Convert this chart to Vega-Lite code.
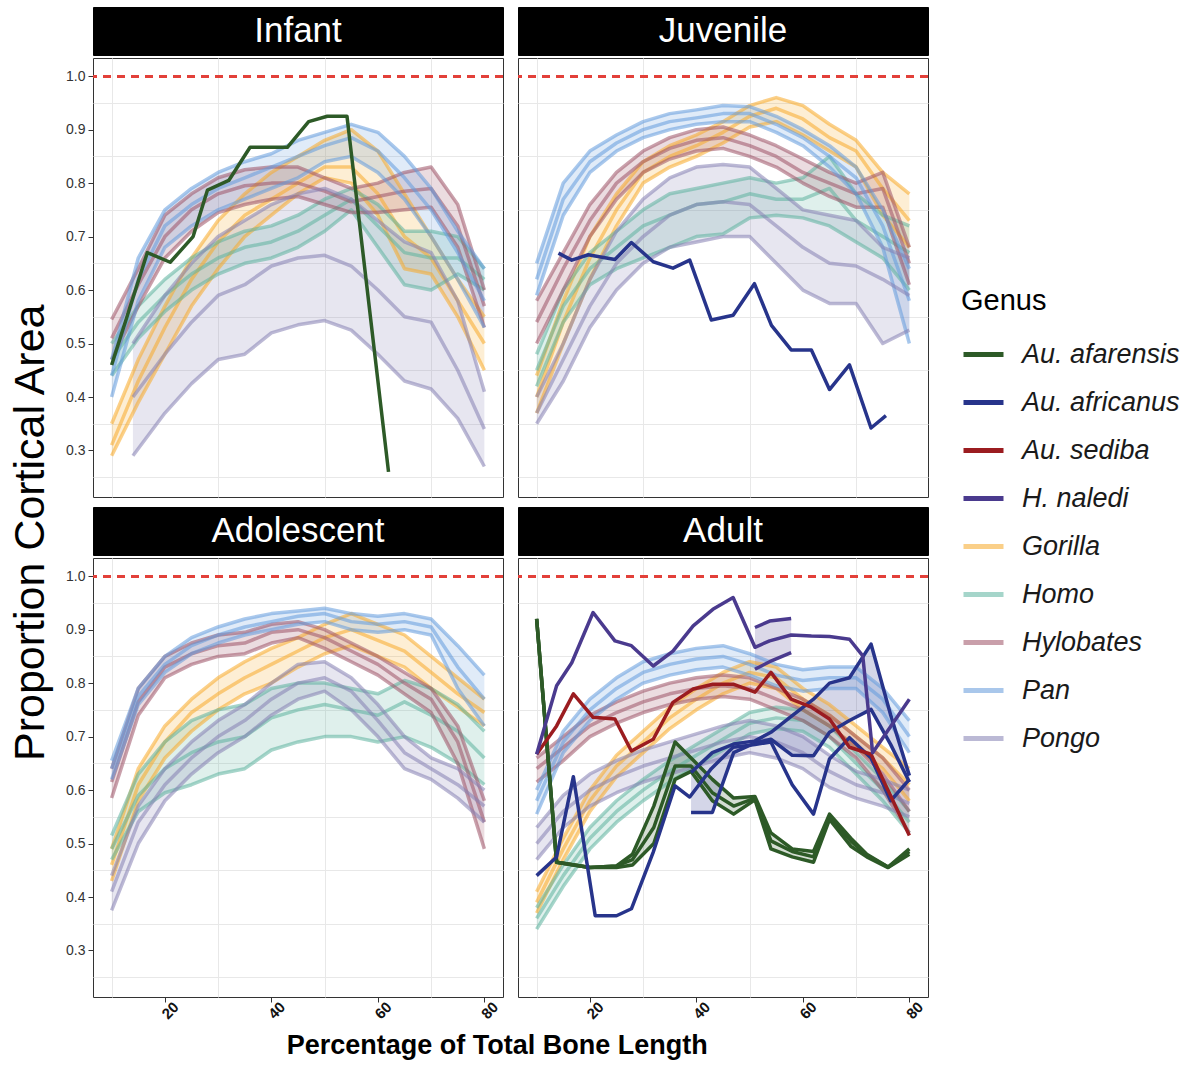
{
  "$schema": "https://vega.github.io/schema/vega-lite/v6.json",
  "background": "white",
  "padding": {"left": 10, "top": 6, "right": 5, "bottom": 4},
  "config": {
    "font": "Liberation Sans",
    "view": {"stroke": "#333333", "strokeWidth": 1}
  },
  "datasets": {
    "curves": [
      {"stage":"Infant","genus":"Gorilla","x":10,"lo":0.29,"mid":0.31,"hi":0.35},
      {"stage":"Infant","genus":"Gorilla","x":15,"lo":0.39,"mid":0.43,"hi":0.47},
      {"stage":"Infant","genus":"Gorilla","x":20,"lo":0.48,"mid":0.53,"hi":0.57},
      {"stage":"Infant","genus":"Gorilla","x":25,"lo":0.57,"mid":0.62,"hi":0.66},
      {"stage":"Infant","genus":"Gorilla","x":30,"lo":0.64,"mid":0.69,"hi":0.73},
      {"stage":"Infant","genus":"Gorilla","x":35,"lo":0.70,"mid":0.74,"hi":0.78},
      {"stage":"Infant","genus":"Gorilla","x":40,"lo":0.74,"mid":0.77,"hi":0.82},
      {"stage":"Infant","genus":"Gorilla","x":45,"lo":0.78,"mid":0.80,"hi":0.85},
      {"stage":"Infant","genus":"Gorilla","x":50,"lo":0.81,"mid":0.83,"hi":0.88},
      {"stage":"Infant","genus":"Gorilla","x":55,"lo":0.80,"mid":0.83,"hi":0.90},
      {"stage":"Infant","genus":"Gorilla","x":60,"lo":0.74,"mid":0.78,"hi":0.86},
      {"stage":"Infant","genus":"Gorilla","x":65,"lo":0.64,"mid":0.70,"hi":0.78},
      {"stage":"Infant","genus":"Gorilla","x":70,"lo":0.63,"mid":0.66,"hi":0.70},
      {"stage":"Infant","genus":"Gorilla","x":75,"lo":0.55,"mid":0.58,"hi":0.62},
      {"stage":"Infant","genus":"Gorilla","x":80,"lo":0.45,"mid":0.50,"hi":0.55},
      {"stage":"Infant","genus":"Homo","x":10,"lo":0.44,"mid":0.47,"hi":0.50},
      {"stage":"Infant","genus":"Homo","x":15,"lo":0.51,"mid":0.54,"hi":0.57},
      {"stage":"Infant","genus":"Homo","x":20,"lo":0.56,"mid":0.59,"hi":0.62},
      {"stage":"Infant","genus":"Homo","x":25,"lo":0.60,"mid":0.63,"hi":0.66},
      {"stage":"Infant","genus":"Homo","x":30,"lo":0.63,"mid":0.66,"hi":0.69},
      {"stage":"Infant","genus":"Homo","x":35,"lo":0.65,"mid":0.68,"hi":0.71},
      {"stage":"Infant","genus":"Homo","x":40,"lo":0.66,"mid":0.69,"hi":0.72},
      {"stage":"Infant","genus":"Homo","x":45,"lo":0.68,"mid":0.71,"hi":0.74},
      {"stage":"Infant","genus":"Homo","x":50,"lo":0.71,"mid":0.74,"hi":0.77},
      {"stage":"Infant","genus":"Homo","x":55,"lo":0.75,"mid":0.77,"hi":0.79},
      {"stage":"Infant","genus":"Homo","x":60,"lo":0.68,"mid":0.72,"hi":0.76},
      {"stage":"Infant","genus":"Homo","x":65,"lo":0.61,"mid":0.67,"hi":0.71},
      {"stage":"Infant","genus":"Homo","x":70,"lo":0.60,"mid":0.66,"hi":0.71},
      {"stage":"Infant","genus":"Homo","x":75,"lo":0.63,"mid":0.66,"hi":0.70},
      {"stage":"Infant","genus":"Homo","x":80,"lo":0.60,"mid":0.62,"hi":0.64},
      {"stage":"Infant","genus":"Hylobates","x":10,"lo":0.47,"mid":0.51,"hi":0.545},
      {"stage":"Infant","genus":"Hylobates","x":15,"lo":0.57,"mid":0.61,"hi":0.64},
      {"stage":"Infant","genus":"Hylobates","x":20,"lo":0.66,"mid":0.70,"hi":0.74},
      {"stage":"Infant","genus":"Hylobates","x":25,"lo":0.71,"mid":0.75,"hi":0.78},
      {"stage":"Infant","genus":"Hylobates","x":30,"lo":0.745,"mid":0.78,"hi":0.81},
      {"stage":"Infant","genus":"Hylobates","x":35,"lo":0.76,"mid":0.795,"hi":0.825},
      {"stage":"Infant","genus":"Hylobates","x":40,"lo":0.77,"mid":0.80,"hi":0.83},
      {"stage":"Infant","genus":"Hylobates","x":45,"lo":0.775,"mid":0.80,"hi":0.83},
      {"stage":"Infant","genus":"Hylobates","x":50,"lo":0.76,"mid":0.785,"hi":0.81},
      {"stage":"Infant","genus":"Hylobates","x":55,"lo":0.745,"mid":0.765,"hi":0.79},
      {"stage":"Infant","genus":"Hylobates","x":60,"lo":0.745,"mid":0.775,"hi":0.80},
      {"stage":"Infant","genus":"Hylobates","x":65,"lo":0.75,"mid":0.785,"hi":0.82},
      {"stage":"Infant","genus":"Hylobates","x":70,"lo":0.755,"mid":0.79,"hi":0.83},
      {"stage":"Infant","genus":"Hylobates","x":75,"lo":0.68,"mid":0.72,"hi":0.76},
      {"stage":"Infant","genus":"Hylobates","x":80,"lo":0.53,"mid":0.57,"hi":0.60},
      {"stage":"Infant","genus":"Pan","x":10,"lo":0.40,"mid":0.44,"hi":0.47},
      {"stage":"Infant","genus":"Pan","x":15,"lo":0.58,"mid":0.62,"hi":0.66},
      {"stage":"Infant","genus":"Pan","x":20,"lo":0.68,"mid":0.72,"hi":0.75},
      {"stage":"Infant","genus":"Pan","x":25,"lo":0.72,"mid":0.76,"hi":0.79},
      {"stage":"Infant","genus":"Pan","x":30,"lo":0.75,"mid":0.79,"hi":0.82},
      {"stage":"Infant","genus":"Pan","x":35,"lo":0.77,"mid":0.81,"hi":0.84},
      {"stage":"Infant","genus":"Pan","x":40,"lo":0.79,"mid":0.83,"hi":0.855},
      {"stage":"Infant","genus":"Pan","x":45,"lo":0.81,"mid":0.85,"hi":0.88},
      {"stage":"Infant","genus":"Pan","x":50,"lo":0.84,"mid":0.87,"hi":0.895},
      {"stage":"Infant","genus":"Pan","x":55,"lo":0.85,"mid":0.885,"hi":0.91},
      {"stage":"Infant","genus":"Pan","x":60,"lo":0.82,"mid":0.86,"hi":0.895},
      {"stage":"Infant","genus":"Pan","x":65,"lo":0.77,"mid":0.81,"hi":0.85},
      {"stage":"Infant","genus":"Pan","x":70,"lo":0.70,"mid":0.75,"hi":0.79},
      {"stage":"Infant","genus":"Pan","x":75,"lo":0.62,"mid":0.67,"hi":0.71},
      {"stage":"Infant","genus":"Pan","x":80,"lo":0.53,"mid":0.58,"hi":0.64},
      {"stage":"Infant","genus":"Pongo","x":14,"lo":0.29,"mid":0.40,"hi":0.50},
      {"stage":"Infant","genus":"Pongo","x":20,"lo":0.37,"mid":0.48,"hi":0.59},
      {"stage":"Infant","genus":"Pongo","x":25,"lo":0.425,"mid":0.54,"hi":0.65},
      {"stage":"Infant","genus":"Pongo","x":30,"lo":0.47,"mid":0.59,"hi":0.70},
      {"stage":"Infant","genus":"Pongo","x":35,"lo":0.48,"mid":0.61,"hi":0.73},
      {"stage":"Infant","genus":"Pongo","x":40,"lo":0.52,"mid":0.645,"hi":0.76},
      {"stage":"Infant","genus":"Pongo","x":45,"lo":0.535,"mid":0.66,"hi":0.78},
      {"stage":"Infant","genus":"Pongo","x":50,"lo":0.543,"mid":0.665,"hi":0.79},
      {"stage":"Infant","genus":"Pongo","x":55,"lo":0.525,"mid":0.645,"hi":0.77},
      {"stage":"Infant","genus":"Pongo","x":60,"lo":0.48,"mid":0.60,"hi":0.73},
      {"stage":"Infant","genus":"Pongo","x":65,"lo":0.43,"mid":0.55,"hi":0.69},
      {"stage":"Infant","genus":"Pongo","x":70,"lo":0.415,"mid":0.54,"hi":0.67},
      {"stage":"Infant","genus":"Pongo","x":75,"lo":0.36,"mid":0.45,"hi":0.58},
      {"stage":"Infant","genus":"Pongo","x":80,"lo":0.27,"mid":0.34,"hi":0.41},

      {"stage":"Juvenile","genus":"Gorilla","x":10,"lo":0.37,"mid":0.40,"hi":0.44},
      {"stage":"Juvenile","genus":"Gorilla","x":15,"lo":0.50,"mid":0.54,"hi":0.58},
      {"stage":"Juvenile","genus":"Gorilla","x":20,"lo":0.62,"mid":0.66,"hi":0.70},
      {"stage":"Juvenile","genus":"Gorilla","x":25,"lo":0.72,"mid":0.75,"hi":0.78},
      {"stage":"Juvenile","genus":"Gorilla","x":30,"lo":0.80,"mid":0.82,"hi":0.84},
      {"stage":"Juvenile","genus":"Gorilla","x":35,"lo":0.83,"mid":0.85,"hi":0.87},
      {"stage":"Juvenile","genus":"Gorilla","x":40,"lo":0.85,"mid":0.87,"hi":0.89},
      {"stage":"Juvenile","genus":"Gorilla","x":45,"lo":0.875,"mid":0.895,"hi":0.915},
      {"stage":"Juvenile","genus":"Gorilla","x":50,"lo":0.905,"mid":0.925,"hi":0.945},
      {"stage":"Juvenile","genus":"Gorilla","x":55,"lo":0.915,"mid":0.94,"hi":0.96},
      {"stage":"Juvenile","genus":"Gorilla","x":60,"lo":0.89,"mid":0.92,"hi":0.945},
      {"stage":"Juvenile","genus":"Gorilla","x":65,"lo":0.86,"mid":0.885,"hi":0.91},
      {"stage":"Juvenile","genus":"Gorilla","x":70,"lo":0.83,"mid":0.86,"hi":0.88},
      {"stage":"Juvenile","genus":"Gorilla","x":75,"lo":0.74,"mid":0.79,"hi":0.82},
      {"stage":"Juvenile","genus":"Gorilla","x":80,"lo":0.68,"mid":0.73,"hi":0.78},
      {"stage":"Juvenile","genus":"Homo","x":10,"lo":0.42,"mid":0.45,"hi":0.48},
      {"stage":"Juvenile","genus":"Homo","x":15,"lo":0.54,"mid":0.57,"hi":0.60},
      {"stage":"Juvenile","genus":"Homo","x":20,"lo":0.61,"mid":0.64,"hi":0.67},
      {"stage":"Juvenile","genus":"Homo","x":25,"lo":0.64,"mid":0.68,"hi":0.71},
      {"stage":"Juvenile","genus":"Homo","x":30,"lo":0.66,"mid":0.72,"hi":0.75},
      {"stage":"Juvenile","genus":"Homo","x":35,"lo":0.68,"mid":0.74,"hi":0.78},
      {"stage":"Juvenile","genus":"Homo","x":40,"lo":0.70,"mid":0.76,"hi":0.79},
      {"stage":"Juvenile","genus":"Homo","x":45,"lo":0.705,"mid":0.765,"hi":0.80},
      {"stage":"Juvenile","genus":"Homo","x":50,"lo":0.735,"mid":0.78,"hi":0.81},
      {"stage":"Juvenile","genus":"Homo","x":55,"lo":0.74,"mid":0.77,"hi":0.80},
      {"stage":"Juvenile","genus":"Homo","x":60,"lo":0.735,"mid":0.77,"hi":0.81},
      {"stage":"Juvenile","genus":"Homo","x":65,"lo":0.72,"mid":0.79,"hi":0.85},
      {"stage":"Juvenile","genus":"Homo","x":70,"lo":0.69,"mid":0.73,"hi":0.78},
      {"stage":"Juvenile","genus":"Homo","x":75,"lo":0.66,"mid":0.70,"hi":0.74},
      {"stage":"Juvenile","genus":"Homo","x":80,"lo":0.60,"mid":0.67,"hi":0.72},
      {"stage":"Juvenile","genus":"Hylobates","x":10,"lo":0.50,"mid":0.54,"hi":0.58},
      {"stage":"Juvenile","genus":"Hylobates","x":15,"lo":0.60,"mid":0.64,"hi":0.67},
      {"stage":"Juvenile","genus":"Hylobates","x":20,"lo":0.70,"mid":0.73,"hi":0.76},
      {"stage":"Juvenile","genus":"Hylobates","x":25,"lo":0.77,"mid":0.80,"hi":0.82},
      {"stage":"Juvenile","genus":"Hylobates","x":30,"lo":0.82,"mid":0.84,"hi":0.86},
      {"stage":"Juvenile","genus":"Hylobates","x":35,"lo":0.845,"mid":0.865,"hi":0.885},
      {"stage":"Juvenile","genus":"Hylobates","x":40,"lo":0.86,"mid":0.88,"hi":0.90},
      {"stage":"Juvenile","genus":"Hylobates","x":45,"lo":0.865,"mid":0.885,"hi":0.905},
      {"stage":"Juvenile","genus":"Hylobates","x":50,"lo":0.85,"mid":0.87,"hi":0.89},
      {"stage":"Juvenile","genus":"Hylobates","x":55,"lo":0.83,"mid":0.85,"hi":0.87},
      {"stage":"Juvenile","genus":"Hylobates","x":60,"lo":0.80,"mid":0.82,"hi":0.845},
      {"stage":"Juvenile","genus":"Hylobates","x":65,"lo":0.775,"mid":0.80,"hi":0.82},
      {"stage":"Juvenile","genus":"Hylobates","x":70,"lo":0.755,"mid":0.78,"hi":0.80},
      {"stage":"Juvenile","genus":"Hylobates","x":75,"lo":0.755,"mid":0.79,"hi":0.82},
      {"stage":"Juvenile","genus":"Hylobates","x":80,"lo":0.61,"mid":0.65,"hi":0.68},
      {"stage":"Juvenile","genus":"Pan","x":10,"lo":0.59,"mid":0.62,"hi":0.65},
      {"stage":"Juvenile","genus":"Pan","x":15,"lo":0.74,"mid":0.77,"hi":0.80},
      {"stage":"Juvenile","genus":"Pan","x":20,"lo":0.82,"mid":0.84,"hi":0.86},
      {"stage":"Juvenile","genus":"Pan","x":25,"lo":0.86,"mid":0.875,"hi":0.89},
      {"stage":"Juvenile","genus":"Pan","x":30,"lo":0.885,"mid":0.90,"hi":0.915},
      {"stage":"Juvenile","genus":"Pan","x":35,"lo":0.90,"mid":0.915,"hi":0.93},
      {"stage":"Juvenile","genus":"Pan","x":40,"lo":0.91,"mid":0.922,"hi":0.937},
      {"stage":"Juvenile","genus":"Pan","x":45,"lo":0.915,"mid":0.93,"hi":0.945},
      {"stage":"Juvenile","genus":"Pan","x":50,"lo":0.915,"mid":0.93,"hi":0.943},
      {"stage":"Juvenile","genus":"Pan","x":55,"lo":0.895,"mid":0.91,"hi":0.925},
      {"stage":"Juvenile","genus":"Pan","x":60,"lo":0.87,"mid":0.885,"hi":0.90},
      {"stage":"Juvenile","genus":"Pan","x":65,"lo":0.83,"mid":0.85,"hi":0.87},
      {"stage":"Juvenile","genus":"Pan","x":70,"lo":0.78,"mid":0.81,"hi":0.83},
      {"stage":"Juvenile","genus":"Pan","x":75,"lo":0.68,"mid":0.72,"hi":0.75},
      {"stage":"Juvenile","genus":"Pan","x":80,"lo":0.50,"mid":0.58,"hi":0.64},
      {"stage":"Juvenile","genus":"Pongo","x":10,"lo":0.35,"mid":0.37,"hi":0.40},
      {"stage":"Juvenile","genus":"Pongo","x":15,"lo":0.43,"mid":0.47,"hi":0.50},
      {"stage":"Juvenile","genus":"Pongo","x":20,"lo":0.53,"mid":0.57,"hi":0.62},
      {"stage":"Juvenile","genus":"Pongo","x":25,"lo":0.60,"mid":0.65,"hi":0.71},
      {"stage":"Juvenile","genus":"Pongo","x":30,"lo":0.65,"mid":0.70,"hi":0.77},
      {"stage":"Juvenile","genus":"Pongo","x":35,"lo":0.68,"mid":0.74,"hi":0.81},
      {"stage":"Juvenile","genus":"Pongo","x":40,"lo":0.69,"mid":0.76,"hi":0.83},
      {"stage":"Juvenile","genus":"Pongo","x":45,"lo":0.70,"mid":0.765,"hi":0.835},
      {"stage":"Juvenile","genus":"Pongo","x":50,"lo":0.70,"mid":0.76,"hi":0.83},
      {"stage":"Juvenile","genus":"Pongo","x":55,"lo":0.65,"mid":0.72,"hi":0.79},
      {"stage":"Juvenile","genus":"Pongo","x":60,"lo":0.60,"mid":0.68,"hi":0.75},
      {"stage":"Juvenile","genus":"Pongo","x":65,"lo":0.575,"mid":0.65,"hi":0.74},
      {"stage":"Juvenile","genus":"Pongo","x":70,"lo":0.575,"mid":0.645,"hi":0.73},
      {"stage":"Juvenile","genus":"Pongo","x":75,"lo":0.50,"mid":0.62,"hi":0.68},
      {"stage":"Juvenile","genus":"Pongo","x":80,"lo":0.525,"mid":0.59,"hi":0.66},

      {"stage":"Adolescent","genus":"Gorilla","x":10,"lo":0.43,"mid":0.46,"hi":0.49},
      {"stage":"Adolescent","genus":"Gorilla","x":15,"lo":0.58,"mid":0.61,"hi":0.64},
      {"stage":"Adolescent","genus":"Gorilla","x":20,"lo":0.66,"mid":0.69,"hi":0.72},
      {"stage":"Adolescent","genus":"Gorilla","x":25,"lo":0.71,"mid":0.745,"hi":0.77},
      {"stage":"Adolescent","genus":"Gorilla","x":30,"lo":0.75,"mid":0.78,"hi":0.81},
      {"stage":"Adolescent","genus":"Gorilla","x":35,"lo":0.78,"mid":0.81,"hi":0.84},
      {"stage":"Adolescent","genus":"Gorilla","x":40,"lo":0.80,"mid":0.835,"hi":0.865},
      {"stage":"Adolescent","genus":"Gorilla","x":45,"lo":0.83,"mid":0.86,"hi":0.885},
      {"stage":"Adolescent","genus":"Gorilla","x":50,"lo":0.855,"mid":0.885,"hi":0.91},
      {"stage":"Adolescent","genus":"Gorilla","x":55,"lo":0.87,"mid":0.90,"hi":0.93},
      {"stage":"Adolescent","genus":"Gorilla","x":60,"lo":0.85,"mid":0.88,"hi":0.91},
      {"stage":"Adolescent","genus":"Gorilla","x":65,"lo":0.83,"mid":0.86,"hi":0.89},
      {"stage":"Adolescent","genus":"Gorilla","x":70,"lo":0.79,"mid":0.82,"hi":0.85},
      {"stage":"Adolescent","genus":"Gorilla","x":75,"lo":0.755,"mid":0.78,"hi":0.81},
      {"stage":"Adolescent","genus":"Gorilla","x":80,"lo":0.72,"mid":0.745,"hi":0.77},
      {"stage":"Adolescent","genus":"Homo","x":10,"lo":0.47,"mid":0.49,"hi":0.515},
      {"stage":"Adolescent","genus":"Homo","x":15,"lo":0.56,"mid":0.59,"hi":0.63},
      {"stage":"Adolescent","genus":"Homo","x":20,"lo":0.595,"mid":0.64,"hi":0.69},
      {"stage":"Adolescent","genus":"Homo","x":25,"lo":0.61,"mid":0.67,"hi":0.73},
      {"stage":"Adolescent","genus":"Homo","x":30,"lo":0.63,"mid":0.69,"hi":0.75},
      {"stage":"Adolescent","genus":"Homo","x":35,"lo":0.64,"mid":0.70,"hi":0.76},
      {"stage":"Adolescent","genus":"Homo","x":40,"lo":0.675,"mid":0.735,"hi":0.79},
      {"stage":"Adolescent","genus":"Homo","x":45,"lo":0.69,"mid":0.75,"hi":0.80},
      {"stage":"Adolescent","genus":"Homo","x":50,"lo":0.70,"mid":0.76,"hi":0.80},
      {"stage":"Adolescent","genus":"Homo","x":55,"lo":0.70,"mid":0.75,"hi":0.79},
      {"stage":"Adolescent","genus":"Homo","x":60,"lo":0.69,"mid":0.74,"hi":0.78},
      {"stage":"Adolescent","genus":"Homo","x":65,"lo":0.70,"mid":0.765,"hi":0.805},
      {"stage":"Adolescent","genus":"Homo","x":70,"lo":0.68,"mid":0.74,"hi":0.79},
      {"stage":"Adolescent","genus":"Homo","x":75,"lo":0.65,"mid":0.71,"hi":0.76},
      {"stage":"Adolescent","genus":"Homo","x":80,"lo":0.61,"mid":0.66,"hi":0.71},
      {"stage":"Adolescent","genus":"Hylobates","x":10,"lo":0.585,"mid":0.615,"hi":0.64},
      {"stage":"Adolescent","genus":"Hylobates","x":15,"lo":0.74,"mid":0.765,"hi":0.79},
      {"stage":"Adolescent","genus":"Hylobates","x":20,"lo":0.81,"mid":0.83,"hi":0.85},
      {"stage":"Adolescent","genus":"Hylobates","x":25,"lo":0.835,"mid":0.855,"hi":0.875},
      {"stage":"Adolescent","genus":"Hylobates","x":30,"lo":0.85,"mid":0.87,"hi":0.89},
      {"stage":"Adolescent","genus":"Hylobates","x":35,"lo":0.855,"mid":0.875,"hi":0.895},
      {"stage":"Adolescent","genus":"Hylobates","x":40,"lo":0.875,"mid":0.895,"hi":0.91},
      {"stage":"Adolescent","genus":"Hylobates","x":45,"lo":0.885,"mid":0.90,"hi":0.915},
      {"stage":"Adolescent","genus":"Hylobates","x":50,"lo":0.865,"mid":0.885,"hi":0.90},
      {"stage":"Adolescent","genus":"Hylobates","x":55,"lo":0.84,"mid":0.86,"hi":0.875},
      {"stage":"Adolescent","genus":"Hylobates","x":60,"lo":0.815,"mid":0.835,"hi":0.85},
      {"stage":"Adolescent","genus":"Hylobates","x":65,"lo":0.78,"mid":0.80,"hi":0.82},
      {"stage":"Adolescent","genus":"Hylobates","x":70,"lo":0.745,"mid":0.77,"hi":0.79},
      {"stage":"Adolescent","genus":"Hylobates","x":75,"lo":0.65,"mid":0.69,"hi":0.72},
      {"stage":"Adolescent","genus":"Hylobates","x":80,"lo":0.49,"mid":0.54,"hi":0.58},
      {"stage":"Adolescent","genus":"Pan","x":10,"lo":0.62,"mid":0.64,"hi":0.655},
      {"stage":"Adolescent","genus":"Pan","x":15,"lo":0.76,"mid":0.775,"hi":0.79},
      {"stage":"Adolescent","genus":"Pan","x":20,"lo":0.82,"mid":0.835,"hi":0.85},
      {"stage":"Adolescent","genus":"Pan","x":25,"lo":0.855,"mid":0.87,"hi":0.885},
      {"stage":"Adolescent","genus":"Pan","x":30,"lo":0.875,"mid":0.89,"hi":0.905},
      {"stage":"Adolescent","genus":"Pan","x":35,"lo":0.89,"mid":0.905,"hi":0.92},
      {"stage":"Adolescent","genus":"Pan","x":40,"lo":0.90,"mid":0.915,"hi":0.93},
      {"stage":"Adolescent","genus":"Pan","x":45,"lo":0.91,"mid":0.925,"hi":0.935},
      {"stage":"Adolescent","genus":"Pan","x":50,"lo":0.915,"mid":0.93,"hi":0.94},
      {"stage":"Adolescent","genus":"Pan","x":55,"lo":0.90,"mid":0.915,"hi":0.93},
      {"stage":"Adolescent","genus":"Pan","x":60,"lo":0.895,"mid":0.91,"hi":0.925},
      {"stage":"Adolescent","genus":"Pan","x":65,"lo":0.90,"mid":0.915,"hi":0.93},
      {"stage":"Adolescent","genus":"Pan","x":70,"lo":0.89,"mid":0.905,"hi":0.92},
      {"stage":"Adolescent","genus":"Pan","x":75,"lo":0.79,"mid":0.83,"hi":0.87},
      {"stage":"Adolescent","genus":"Pan","x":80,"lo":0.72,"mid":0.77,"hi":0.815},
      {"stage":"Adolescent","genus":"Pongo","x":10,"lo":0.375,"mid":0.41,"hi":0.44},
      {"stage":"Adolescent","genus":"Pongo","x":15,"lo":0.50,"mid":0.54,"hi":0.57},
      {"stage":"Adolescent","genus":"Pongo","x":20,"lo":0.58,"mid":0.61,"hi":0.64},
      {"stage":"Adolescent","genus":"Pongo","x":25,"lo":0.63,"mid":0.66,"hi":0.69},
      {"stage":"Adolescent","genus":"Pongo","x":30,"lo":0.67,"mid":0.70,"hi":0.73},
      {"stage":"Adolescent","genus":"Pongo","x":35,"lo":0.70,"mid":0.73,"hi":0.76},
      {"stage":"Adolescent","genus":"Pongo","x":40,"lo":0.74,"mid":0.77,"hi":0.80},
      {"stage":"Adolescent","genus":"Pongo","x":45,"lo":0.77,"mid":0.80,"hi":0.835},
      {"stage":"Adolescent","genus":"Pongo","x":50,"lo":0.785,"mid":0.81,"hi":0.84},
      {"stage":"Adolescent","genus":"Pongo","x":55,"lo":0.75,"mid":0.785,"hi":0.81},
      {"stage":"Adolescent","genus":"Pongo","x":60,"lo":0.70,"mid":0.73,"hi":0.76},
      {"stage":"Adolescent","genus":"Pongo","x":65,"lo":0.64,"mid":0.67,"hi":0.70},
      {"stage":"Adolescent","genus":"Pongo","x":70,"lo":0.62,"mid":0.64,"hi":0.66},
      {"stage":"Adolescent","genus":"Pongo","x":75,"lo":0.585,"mid":0.61,"hi":0.64},
      {"stage":"Adolescent","genus":"Pongo","x":80,"lo":0.54,"mid":0.57,"hi":0.60},

      {"stage":"Adult","genus":"Gorilla","x":10,"lo":0.37,"mid":0.39,"hi":0.41},
      {"stage":"Adult","genus":"Gorilla","x":15,"lo":0.47,"mid":0.49,"hi":0.51},
      {"stage":"Adult","genus":"Gorilla","x":20,"lo":0.56,"mid":0.58,"hi":0.60},
      {"stage":"Adult","genus":"Gorilla","x":25,"lo":0.625,"mid":0.645,"hi":0.665},
      {"stage":"Adult","genus":"Gorilla","x":30,"lo":0.67,"mid":0.69,"hi":0.71},
      {"stage":"Adult","genus":"Gorilla","x":35,"lo":0.715,"mid":0.735,"hi":0.755},
      {"stage":"Adult","genus":"Gorilla","x":40,"lo":0.75,"mid":0.77,"hi":0.79},
      {"stage":"Adult","genus":"Gorilla","x":45,"lo":0.78,"mid":0.80,"hi":0.82},
      {"stage":"Adult","genus":"Gorilla","x":50,"lo":0.80,"mid":0.82,"hi":0.84},
      {"stage":"Adult","genus":"Gorilla","x":55,"lo":0.79,"mid":0.81,"hi":0.83},
      {"stage":"Adult","genus":"Gorilla","x":60,"lo":0.75,"mid":0.77,"hi":0.79},
      {"stage":"Adult","genus":"Gorilla","x":65,"lo":0.72,"mid":0.74,"hi":0.76},
      {"stage":"Adult","genus":"Gorilla","x":70,"lo":0.68,"mid":0.70,"hi":0.72},
      {"stage":"Adult","genus":"Gorilla","x":75,"lo":0.64,"mid":0.66,"hi":0.68},
      {"stage":"Adult","genus":"Gorilla","x":80,"lo":0.58,"mid":0.61,"hi":0.64},
      {"stage":"Adult","genus":"Homo","x":10,"lo":0.34,"mid":0.36,"hi":0.38},
      {"stage":"Adult","genus":"Homo","x":15,"lo":0.42,"mid":0.44,"hi":0.46},
      {"stage":"Adult","genus":"Homo","x":20,"lo":0.49,"mid":0.51,"hi":0.53},
      {"stage":"Adult","genus":"Homo","x":25,"lo":0.54,"mid":0.56,"hi":0.58},
      {"stage":"Adult","genus":"Homo","x":30,"lo":0.58,"mid":0.60,"hi":0.62},
      {"stage":"Adult","genus":"Homo","x":35,"lo":0.615,"mid":0.635,"hi":0.655},
      {"stage":"Adult","genus":"Homo","x":40,"lo":0.645,"mid":0.665,"hi":0.685},
      {"stage":"Adult","genus":"Homo","x":45,"lo":0.675,"mid":0.695,"hi":0.715},
      {"stage":"Adult","genus":"Homo","x":50,"lo":0.705,"mid":0.725,"hi":0.745},
      {"stage":"Adult","genus":"Homo","x":55,"lo":0.715,"mid":0.735,"hi":0.755},
      {"stage":"Adult","genus":"Homo","x":60,"lo":0.71,"mid":0.73,"hi":0.75},
      {"stage":"Adult","genus":"Homo","x":65,"lo":0.68,"mid":0.70,"hi":0.72},
      {"stage":"Adult","genus":"Homo","x":70,"lo":0.63,"mid":0.65,"hi":0.67},
      {"stage":"Adult","genus":"Homo","x":75,"lo":0.58,"mid":0.60,"hi":0.62},
      {"stage":"Adult","genus":"Homo","x":80,"lo":0.52,"mid":0.54,"hi":0.56},
      {"stage":"Adult","genus":"Hylobates","x":10,"lo":0.615,"mid":0.64,"hi":0.66},
      {"stage":"Adult","genus":"Hylobates","x":15,"lo":0.655,"mid":0.68,"hi":0.70},
      {"stage":"Adult","genus":"Hylobates","x":20,"lo":0.70,"mid":0.72,"hi":0.74},
      {"stage":"Adult","genus":"Hylobates","x":25,"lo":0.725,"mid":0.745,"hi":0.765},
      {"stage":"Adult","genus":"Hylobates","x":30,"lo":0.745,"mid":0.765,"hi":0.785},
      {"stage":"Adult","genus":"Hylobates","x":35,"lo":0.76,"mid":0.78,"hi":0.80},
      {"stage":"Adult","genus":"Hylobates","x":40,"lo":0.77,"mid":0.79,"hi":0.81},
      {"stage":"Adult","genus":"Hylobates","x":45,"lo":0.775,"mid":0.795,"hi":0.815},
      {"stage":"Adult","genus":"Hylobates","x":50,"lo":0.77,"mid":0.79,"hi":0.81},
      {"stage":"Adult","genus":"Hylobates","x":55,"lo":0.75,"mid":0.77,"hi":0.79},
      {"stage":"Adult","genus":"Hylobates","x":60,"lo":0.73,"mid":0.75,"hi":0.77},
      {"stage":"Adult","genus":"Hylobates","x":65,"lo":0.70,"mid":0.72,"hi":0.74},
      {"stage":"Adult","genus":"Hylobates","x":70,"lo":0.66,"mid":0.68,"hi":0.70},
      {"stage":"Adult","genus":"Hylobates","x":75,"lo":0.60,"mid":0.63,"hi":0.66},
      {"stage":"Adult","genus":"Hylobates","x":80,"lo":0.52,"mid":0.56,"hi":0.60},
      {"stage":"Adult","genus":"Pan","x":10,"lo":0.555,"mid":0.58,"hi":0.60},
      {"stage":"Adult","genus":"Pan","x":15,"lo":0.67,"mid":0.69,"hi":0.71},
      {"stage":"Adult","genus":"Pan","x":20,"lo":0.73,"mid":0.75,"hi":0.77},
      {"stage":"Adult","genus":"Pan","x":25,"lo":0.77,"mid":0.79,"hi":0.81},
      {"stage":"Adult","genus":"Pan","x":30,"lo":0.80,"mid":0.82,"hi":0.84},
      {"stage":"Adult","genus":"Pan","x":35,"lo":0.815,"mid":0.835,"hi":0.855},
      {"stage":"Adult","genus":"Pan","x":40,"lo":0.825,"mid":0.845,"hi":0.865},
      {"stage":"Adult","genus":"Pan","x":45,"lo":0.83,"mid":0.85,"hi":0.87},
      {"stage":"Adult","genus":"Pan","x":50,"lo":0.815,"mid":0.835,"hi":0.855},
      {"stage":"Adult","genus":"Pan","x":55,"lo":0.795,"mid":0.815,"hi":0.835},
      {"stage":"Adult","genus":"Pan","x":60,"lo":0.785,"mid":0.805,"hi":0.825},
      {"stage":"Adult","genus":"Pan","x":65,"lo":0.79,"mid":0.81,"hi":0.83},
      {"stage":"Adult","genus":"Pan","x":70,"lo":0.79,"mid":0.81,"hi":0.83},
      {"stage":"Adult","genus":"Pan","x":75,"lo":0.745,"mid":0.77,"hi":0.79},
      {"stage":"Adult","genus":"Pan","x":80,"lo":0.67,"mid":0.70,"hi":0.73},
      {"stage":"Adult","genus":"Pongo","x":10,"lo":0.47,"mid":0.50,"hi":0.53},
      {"stage":"Adult","genus":"Pongo","x":15,"lo":0.53,"mid":0.56,"hi":0.59},
      {"stage":"Adult","genus":"Pongo","x":20,"lo":0.57,"mid":0.60,"hi":0.63},
      {"stage":"Adult","genus":"Pongo","x":25,"lo":0.595,"mid":0.625,"hi":0.655},
      {"stage":"Adult","genus":"Pongo","x":30,"lo":0.615,"mid":0.645,"hi":0.675},
      {"stage":"Adult","genus":"Pongo","x":35,"lo":0.63,"mid":0.66,"hi":0.69},
      {"stage":"Adult","genus":"Pongo","x":40,"lo":0.645,"mid":0.675,"hi":0.705},
      {"stage":"Adult","genus":"Pongo","x":45,"lo":0.66,"mid":0.69,"hi":0.72},
      {"stage":"Adult","genus":"Pongo","x":50,"lo":0.67,"mid":0.70,"hi":0.73},
      {"stage":"Adult","genus":"Pongo","x":55,"lo":0.66,"mid":0.69,"hi":0.72},
      {"stage":"Adult","genus":"Pongo","x":60,"lo":0.64,"mid":0.67,"hi":0.70},
      {"stage":"Adult","genus":"Pongo","x":65,"lo":0.605,"mid":0.635,"hi":0.665},
      {"stage":"Adult","genus":"Pongo","x":70,"lo":0.585,"mid":0.61,"hi":0.635},
      {"stage":"Adult","genus":"Pongo","x":75,"lo":0.57,"mid":0.595,"hi":0.62},
      {"stage":"Adult","genus":"Pongo","x":80,"lo":0.55,"mid":0.575,"hi":0.60},

      {"stage":"Infant","genus":"Au. afarensis","id":"af1","x":10,"mid":0.46},
      {"stage":"Infant","genus":"Au. afarensis","id":"af1","x":16.7,"mid":0.67},
      {"stage":"Infant","genus":"Au. afarensis","id":"af1","x":21,"mid":0.652},
      {"stage":"Infant","genus":"Au. afarensis","id":"af1","x":25.3,"mid":0.70},
      {"stage":"Infant","genus":"Au. afarensis","id":"af1","x":28,"mid":0.787},
      {"stage":"Infant","genus":"Au. afarensis","id":"af1","x":32,"mid":0.805},
      {"stage":"Infant","genus":"Au. afarensis","id":"af1","x":36,"mid":0.867},
      {"stage":"Infant","genus":"Au. afarensis","id":"af1","x":43,"mid":0.867},
      {"stage":"Infant","genus":"Au. afarensis","id":"af1","x":47,"mid":0.915},
      {"stage":"Infant","genus":"Au. afarensis","id":"af1","x":50.5,"mid":0.925},
      {"stage":"Infant","genus":"Au. afarensis","id":"af1","x":54.2,"mid":0.925},
      {"stage":"Infant","genus":"Au. afarensis","id":"af1","x":62,"mid":0.26},

      {"stage":"Juvenile","genus":"Au. africanus","id":"aa1","x":14.1,"mid":0.669},
      {"stage":"Juvenile","genus":"Au. africanus","id":"aa1","x":16.6,"mid":0.656},
      {"stage":"Juvenile","genus":"Au. africanus","id":"aa1","x":19.7,"mid":0.666},
      {"stage":"Juvenile","genus":"Au. africanus","id":"aa1","x":24.7,"mid":0.657},
      {"stage":"Juvenile","genus":"Au. africanus","id":"aa1","x":27.8,"mid":0.689},
      {"stage":"Juvenile","genus":"Au. africanus","id":"aa1","x":31.9,"mid":0.653},
      {"stage":"Juvenile","genus":"Au. africanus","id":"aa1","x":35.6,"mid":0.641},
      {"stage":"Juvenile","genus":"Au. africanus","id":"aa1","x":38.75,"mid":0.656},
      {"stage":"Juvenile","genus":"Au. africanus","id":"aa1","x":42.8,"mid":0.544},
      {"stage":"Juvenile","genus":"Au. africanus","id":"aa1","x":46.9,"mid":0.553},
      {"stage":"Juvenile","genus":"Au. africanus","id":"aa1","x":50.9,"mid":0.612},
      {"stage":"Juvenile","genus":"Au. africanus","id":"aa1","x":54.1,"mid":0.534},
      {"stage":"Juvenile","genus":"Au. africanus","id":"aa1","x":57.8,"mid":0.488},
      {"stage":"Juvenile","genus":"Au. africanus","id":"aa1","x":61.6,"mid":0.488},
      {"stage":"Juvenile","genus":"Au. africanus","id":"aa1","x":65,"mid":0.414},
      {"stage":"Juvenile","genus":"Au. africanus","id":"aa1","x":68.75,"mid":0.46},
      {"stage":"Juvenile","genus":"Au. africanus","id":"aa1","x":72.8,"mid":0.342},
      {"stage":"Juvenile","genus":"Au. africanus","id":"aa1","x":75.6,"mid":0.365},

      {"stage":"Adult","genus":"Au. afarensis","id":"af2","x":10,"lo":0.92,"mid":0.92,"hi":0.92},
      {"stage":"Adult","genus":"Au. afarensis","id":"af2","x":13.75,"lo":0.465,"mid":0.465,"hi":0.465},
      {"stage":"Adult","genus":"Au. afarensis","id":"af2","x":20,"lo":0.455,"mid":0.455,"hi":0.455},
      {"stage":"Adult","genus":"Au. afarensis","id":"af2","x":25,"lo":0.455,"mid":0.458,"hi":0.458},
      {"stage":"Adult","genus":"Au. afarensis","id":"af2","x":28,"lo":0.46,"mid":0.47,"hi":0.48},
      {"stage":"Adult","genus":"Au. afarensis","id":"af2","x":32,"lo":0.50,"mid":0.53,"hi":0.57},
      {"stage":"Adult","genus":"Au. afarensis","id":"af2","x":36,"lo":0.62,"mid":0.645,"hi":0.69},
      {"stage":"Adult","genus":"Au. afarensis","id":"af2","x":39,"lo":0.635,"mid":0.645,"hi":0.66},
      {"stage":"Adult","genus":"Au. afarensis","id":"af2","x":43,"lo":0.58,"mid":0.595,"hi":0.62},
      {"stage":"Adult","genus":"Au. afarensis","id":"af2","x":47,"lo":0.555,"mid":0.57,"hi":0.585},
      {"stage":"Adult","genus":"Au. afarensis","id":"af2","x":51,"lo":0.582,"mid":0.585,"hi":0.588},
      {"stage":"Adult","genus":"Au. afarensis","id":"af2","x":54,"lo":0.49,"mid":0.505,"hi":0.52},
      {"stage":"Adult","genus":"Au. afarensis","id":"af2","x":58,"lo":0.475,"mid":0.485,"hi":0.49},
      {"stage":"Adult","genus":"Au. afarensis","id":"af2","x":62,"lo":0.465,"mid":0.475,"hi":0.485},
      {"stage":"Adult","genus":"Au. afarensis","id":"af2","x":65,"lo":0.545,"mid":0.55,"hi":0.555},
      {"stage":"Adult","genus":"Au. afarensis","id":"af2","x":69,"lo":0.495,"mid":0.505,"hi":0.51},
      {"stage":"Adult","genus":"Au. afarensis","id":"af2","x":72,"lo":0.475,"mid":0.478,"hi":0.48},
      {"stage":"Adult","genus":"Au. afarensis","id":"af2","x":76,"lo":0.455,"mid":0.456,"hi":0.456},
      {"stage":"Adult","genus":"Au. afarensis","id":"af2","x":80,"lo":0.48,"mid":0.485,"hi":0.49},

      {"stage":"Adult","genus":"Au. africanus","id":"aa2","x":10,"mid":0.44},
      {"stage":"Adult","genus":"Au. africanus","id":"aa2","x":13.75,"mid":0.475},
      {"stage":"Adult","genus":"Au. africanus","id":"aa2","x":16.9,"mid":0.625},
      {"stage":"Adult","genus":"Au. africanus","id":"aa2","x":21,"mid":0.365},
      {"stage":"Adult","genus":"Au. africanus","id":"aa2","x":25,"mid":0.365},
      {"stage":"Adult","genus":"Au. africanus","id":"aa2","x":27.8,"mid":0.378},
      {"stage":"Adult","genus":"Au. africanus","id":"aa2","x":31.9,"mid":0.484},
      {"stage":"Adult","genus":"Au. africanus","id":"aa2","x":36,"mid":0.608},
      {"stage":"Adult","genus":"Au. africanus","id":"aa2","x":38.75,"mid":0.587},
      {"stage":"Adult","genus":"Au. africanus","id":"aa2","x":42.8,"mid":0.64},
      {"stage":"Adult","genus":"Au. africanus","id":"aa2","x":46.9,"mid":0.68},
      {"stage":"Adult","genus":"Au. africanus","id":"aa2","x":51,"mid":0.685},
      {"stage":"Adult","genus":"Au. africanus","id":"aa2","x":54,"mid":0.69},
      {"stage":"Adult","genus":"Au. africanus","id":"aa2","x":58,"mid":0.61},
      {"stage":"Adult","genus":"Au. africanus","id":"aa2","x":62,"mid":0.555},
      {"stage":"Adult","genus":"Au. africanus","id":"aa2","x":65,"mid":0.658},
      {"stage":"Adult","genus":"Au. africanus","id":"aa2","x":68.75,"mid":0.698},
      {"stage":"Adult","genus":"Au. africanus","id":"aa2","x":72.8,"mid":0.66},
      {"stage":"Adult","genus":"Au. africanus","id":"aa2","x":76.5,"mid":0.58},
      {"stage":"Adult","genus":"Au. africanus","id":"aa2","x":80,"mid":0.62},
      {"stage":"Adult","genus":"Au. africanus","id":"aa3","x":39,"lo":0.558,"hi":0.633},
      {"stage":"Adult","genus":"Au. africanus","id":"aa3","x":43,"lo":0.558,"hi":0.67},
      {"stage":"Adult","genus":"Au. africanus","id":"aa3","x":47,"lo":0.67,"hi":0.686},
      {"stage":"Adult","genus":"Au. africanus","id":"aa3","x":51,"lo":0.688,"hi":0.692},
      {"stage":"Adult","genus":"Au. africanus","id":"aa3","x":54,"lo":0.695,"hi":0.708},
      {"stage":"Adult","genus":"Au. africanus","id":"aa3","x":58,"lo":0.665,"hi":0.739},
      {"stage":"Adult","genus":"Au. africanus","id":"aa3","x":62,"lo":0.664,"hi":0.77},
      {"stage":"Adult","genus":"Au. africanus","id":"aa3","x":65,"lo":0.708,"hi":0.80},
      {"stage":"Adult","genus":"Au. africanus","id":"aa3","x":68.75,"lo":0.73,"hi":0.81},
      {"stage":"Adult","genus":"Au. africanus","id":"aa3","x":72.8,"lo":0.751,"hi":0.873},
      {"stage":"Adult","genus":"Au. africanus","id":"aa3","x":76.5,"lo":0.685,"hi":0.74},
      {"stage":"Adult","genus":"Au. africanus","id":"aa3","x":80,"lo":0.615,"hi":0.627},

      {"stage":"Adult","genus":"Au. sediba","id":"se1","x":10,"mid":0.667},
      {"stage":"Adult","genus":"Au. sediba","id":"se1","x":13.75,"mid":0.72},
      {"stage":"Adult","genus":"Au. sediba","id":"se1","x":16.9,"mid":0.78},
      {"stage":"Adult","genus":"Au. sediba","id":"se1","x":20.6,"mid":0.736},
      {"stage":"Adult","genus":"Au. sediba","id":"se1","x":24.7,"mid":0.733},
      {"stage":"Adult","genus":"Au. sediba","id":"se1","x":27.8,"mid":0.673},
      {"stage":"Adult","genus":"Au. sediba","id":"se1","x":31.9,"mid":0.695},
      {"stage":"Adult","genus":"Au. sediba","id":"se1","x":35.6,"mid":0.764},
      {"stage":"Adult","genus":"Au. sediba","id":"se1","x":39.4,"mid":0.789},
      {"stage":"Adult","genus":"Au. sediba","id":"se1","x":43.1,"mid":0.798},
      {"stage":"Adult","genus":"Au. sediba","id":"se1","x":46.9,"mid":0.798},
      {"stage":"Adult","genus":"Au. sediba","id":"se1","x":51,"mid":0.783},
      {"stage":"Adult","genus":"Au. sediba","id":"se1","x":54,"mid":0.82},
      {"stage":"Adult","genus":"Au. sediba","id":"se1","x":57.8,"mid":0.77},
      {"stage":"Adult","genus":"Au. sediba","id":"se1","x":61.6,"mid":0.755},
      {"stage":"Adult","genus":"Au. sediba","id":"se1","x":65,"mid":0.733},
      {"stage":"Adult","genus":"Au. sediba","id":"se1","x":68.75,"mid":0.68},
      {"stage":"Adult","genus":"Au. sediba","id":"se1","x":72.8,"mid":0.667},
      {"stage":"Adult","genus":"Au. sediba","id":"se1","x":80,"mid":0.515},

      {"stage":"Adult","genus":"H. naledi","id":"hn1","x":10,"mid":0.667},
      {"stage":"Adult","genus":"H. naledi","id":"hn1","x":13.75,"mid":0.795},
      {"stage":"Adult","genus":"H. naledi","id":"hn1","x":16.6,"mid":0.838},
      {"stage":"Adult","genus":"H. naledi","id":"hn1","x":20.6,"mid":0.932},
      {"stage":"Adult","genus":"H. naledi","id":"hn1","x":24.7,"mid":0.879},
      {"stage":"Adult","genus":"H. naledi","id":"hn1","x":27.8,"mid":0.87},
      {"stage":"Adult","genus":"H. naledi","id":"hn1","x":31.9,"mid":0.832},
      {"stage":"Adult","genus":"H. naledi","id":"hn1","x":35.6,"mid":0.86},
      {"stage":"Adult","genus":"H. naledi","id":"hn1","x":39.4,"mid":0.907},
      {"stage":"Adult","genus":"H. naledi","id":"hn1","x":43.1,"mid":0.938},
      {"stage":"Adult","genus":"H. naledi","id":"hn1","x":46.9,"mid":0.96},
      {"stage":"Adult","genus":"H. naledi","id":"hn1","x":51,"lo":0.826,"mid":0.867,"hi":0.904},
      {"stage":"Adult","genus":"H. naledi","id":"hn1","x":53.75,"lo":0.84,"mid":0.879,"hi":0.916},
      {"stage":"Adult","genus":"H. naledi","id":"hn1","x":57.8,"lo":0.857,"mid":0.89,"hi":0.921},
      {"stage":"Adult","genus":"H. naledi","id":"hn1","x":61.6,"mid":0.888},
      {"stage":"Adult","genus":"H. naledi","id":"hn1","x":65,"mid":0.887},
      {"stage":"Adult","genus":"H. naledi","id":"hn1","x":68.75,"mid":0.882},
      {"stage":"Adult","genus":"H. naledi","id":"hn1","x":71.25,"mid":0.851},
      {"stage":"Adult","genus":"H. naledi","id":"hn1","x":73.1,"mid":0.67},
      {"stage":"Adult","genus":"H. naledi","id":"hn1","x":80,"mid":0.77}
    ]
  },
  "title": {"text": "Proportion Cortical Area", "orient": "left", "anchor": "middle", "fontSize": 43, "fontWeight": "normal", "color": "black", "font": "Liberation Sans", "offset": 12},
  "vconcat": [
    {
      "title": {"text": "Percentage of Total Bone Length", "orient": "bottom", "anchor": "middle", "fontSize": 27, "fontWeight": "bold", "color": "black", "font": "Liberation Sans Narrow, Liberation Sans", "offset": 11},
      "spacing": 8,
      "vconcat": [
        {
          "spacing": 11,
          "hconcat": [
            {
              "spacing": 1,
              "vconcat": [
                {"width": 410, "height": 48, "view": {"fill": "black", "stroke": "black"}, "data": {"values": [{"label": "Infant"}]}, "mark": {"type": "text", "color": "white", "fontSize": 35, "font": "Liberation Sans"}, "encoding": {"text": {"field": "label", "type": "nominal"}}},
                {
                  "width": 410, "height": 439,
                  "data": {"name": "curves"},
                  "transform": [{"filter": {"field": "stage", "equal": "Infant"}}],
                  "resolve": {"axis": {"x": "independent", "y": "independent"}},
                  "layer": [
                    {"transform": [{"filter": "isValid(datum.lo) && isValid(datum.hi)"}], "mark": {"type": "area", "fillOpacity": 0.2},
                     "encoding": {
                       "x": {"field": "x", "type": "quantitative", "scale": {"domain": [6.5, 83.5], "nice": false, "zero": false}, "axis": {"orient": "bottom", "values": [10,30,50,70], "title": null, "domain": false, "labels": false, "ticks": false, "gridColor": "#e8e8e8"}},
                       "y": {"field": "lo", "type": "quantitative", "scale": {"domain": [0.213, 1.034], "nice": false, "zero": false}, "axis": {"orient": "left", "values": [0.25,0.35,0.45,0.55,0.65,0.75,0.85,0.95], "title": null, "domain": false, "labels": false, "ticks": false, "gridColor": "#e8e8e8"}},
                       "y2": {"field": "hi"},
                       "color": {"field": "genus", "type": "nominal", "scale": {"domain": ["Au. afarensis","Au. africanus","Au. sediba","H. naledi","Gorilla","Homo","Hylobates","Pan","Pongo"], "range": ["#2d5a27","#27348b","#9b1c20","#4a3a8e","#f7a928","#5db39f","#9d5266","#639bdc","#8580b3"]}, "legend": {"title": "Genus", "orient": "none", "legendX": 868, "legendY": 280, "symbolType": "stroke", "symbolSize": 1600, "symbolStrokeWidth": 5, "labelFontSize": 27, "labelFontStyle": "italic", "labelColor": "#1a1a1a", "titleFontSize": 29, "titleFontWeight": "normal", "titleColor": "black", "rowPadding": 12, "labelOffset": 16, "titlePadding": 16, "padding": 0}},
                       "detail": {"field": "id"}}},
                    {"transform": [{"fold": ["lo","mid","hi"], "as": ["key","v"]}, {"filter": "isValid(datum.v)"}], "mark": {"type": "line", "strokeWidth": 3.5, "strokeJoin": "round"},
                     "encoding": {
                       "x": {"field": "x", "type": "quantitative", "scale": {"domain": [6.5, 83.5], "nice": false, "zero": false}, "axis": {"orient": "bottom", "values": [20,40,60,80], "title": null, "domain": false, "labels": false, "ticks": false, "gridColor": "#cfcfcf"}},
                       "y": {"field": "v", "type": "quantitative", "scale": {"domain": [0.213, 1.034], "nice": false, "zero": false}, "axis": {"orient": "left", "values": [0.3,0.4,0.5,0.6,0.7,0.8,0.9,1.0], "format": ".1f", "title": null, "domain": false, "labelFontSize": 14, "labelColor": "#333333", "labelPadding": 3, "labelFlush": false, "tickSize": 5, "tickColor": "#333333", "gridColor": "#cfcfcf"}},
                       "color": {"field": "genus", "type": "nominal", "scale": {"domain": ["Au. afarensis","Au. africanus","Au. sediba","H. naledi","Gorilla","Homo","Hylobates","Pan","Pongo"], "range": ["#2d5a27","#27348b","#9b1c20","#4a3a8e","#f7a928","#5db39f","#9d5266","#639bdc","#8580b3"]}, "legend": {"title": "Genus", "orient": "none", "legendX": 868, "legendY": 280, "symbolType": "stroke", "symbolSize": 1600, "symbolStrokeWidth": 5, "labelFontSize": 27, "labelFontStyle": "italic", "labelColor": "#1a1a1a", "titleFontSize": 29, "titleFontWeight": "normal", "titleColor": "black", "rowPadding": 12, "labelOffset": 16, "titlePadding": 16, "padding": 0}},
                       "opacity": {"field": "genus", "type": "nominal", "scale": {"type": "ordinal", "domain": ["Au. afarensis","Au. africanus","Au. sediba","H. naledi","Gorilla","Homo","Hylobates","Pan","Pongo"], "range": [1,1,1,1,0.55,0.55,0.55,0.55,0.55]}, "legend": {"title": "Genus", "orient": "none", "legendX": 868, "legendY": 280, "symbolType": "stroke", "symbolSize": 1600, "symbolStrokeWidth": 5, "labelFontSize": 27, "labelFontStyle": "italic", "labelColor": "#1a1a1a", "titleFontSize": 29, "titleFontWeight": "normal", "titleColor": "black", "rowPadding": 12, "labelOffset": 16, "titlePadding": 16, "padding": 0}},
                       "detail": [{"field": "id"}, {"field": "key"}]}},
                    {"mark": {"type": "rule", "color": "#e2403a", "strokeDash": [8, 6], "strokeWidth": 2}, "encoding": {"y": {"datum": 1, "type": "quantitative", "axis": null}}}
                  ]
                }
              ]
            },
            {
              "spacing": 1,
              "vconcat": [
                {"width": 410, "height": 48, "view": {"fill": "black", "stroke": "black"}, "data": {"values": [{"label": "Juvenile"}]}, "mark": {"type": "text", "color": "white", "fontSize": 35, "font": "Liberation Sans"}, "encoding": {"text": {"field": "label", "type": "nominal"}}},
                {
                  "width": 410, "height": 439,
                  "data": {"name": "curves"},
                  "transform": [{"filter": {"field": "stage", "equal": "Juvenile"}}],
                  "resolve": {"axis": {"x": "independent", "y": "independent"}},
                  "layer": [
                    {"transform": [{"filter": "isValid(datum.lo) && isValid(datum.hi)"}], "mark": {"type": "area", "fillOpacity": 0.2},
                     "encoding": {
                       "x": {"field": "x", "type": "quantitative", "scale": {"domain": [6.5, 83.5], "nice": false, "zero": false}, "axis": {"orient": "bottom", "values": [10,30,50,70], "title": null, "domain": false, "labels": false, "ticks": false, "gridColor": "#e8e8e8"}},
                       "y": {"field": "lo", "type": "quantitative", "scale": {"domain": [0.213, 1.034], "nice": false, "zero": false}, "axis": {"orient": "left", "values": [0.25,0.35,0.45,0.55,0.65,0.75,0.85,0.95], "title": null, "domain": false, "labels": false, "ticks": false, "gridColor": "#e8e8e8"}},
                       "y2": {"field": "hi"},
                       "color": {"field": "genus", "type": "nominal", "scale": {"domain": ["Au. afarensis","Au. africanus","Au. sediba","H. naledi","Gorilla","Homo","Hylobates","Pan","Pongo"], "range": ["#2d5a27","#27348b","#9b1c20","#4a3a8e","#f7a928","#5db39f","#9d5266","#639bdc","#8580b3"]}},
                       "detail": {"field": "id"}}},
                    {"transform": [{"fold": ["lo","mid","hi"], "as": ["key","v"]}, {"filter": "isValid(datum.v)"}], "mark": {"type": "line", "strokeWidth": 3.5, "strokeJoin": "round"},
                     "encoding": {
                       "x": {"field": "x", "type": "quantitative", "scale": {"domain": [6.5, 83.5], "nice": false, "zero": false}, "axis": {"orient": "bottom", "values": [20,40,60,80], "title": null, "domain": false, "labels": false, "ticks": false, "gridColor": "#cfcfcf"}},
                       "y": {"field": "v", "type": "quantitative", "scale": {"domain": [0.213, 1.034], "nice": false, "zero": false}, "axis": {"orient": "left", "values": [0.3,0.4,0.5,0.6,0.7,0.8,0.9,1.0], "title": null, "domain": false, "labels": false, "ticks": false, "gridColor": "#cfcfcf"}},
                       "color": {"field": "genus", "type": "nominal", "scale": {"domain": ["Au. afarensis","Au. africanus","Au. sediba","H. naledi","Gorilla","Homo","Hylobates","Pan","Pongo"], "range": ["#2d5a27","#27348b","#9b1c20","#4a3a8e","#f7a928","#5db39f","#9d5266","#639bdc","#8580b3"]}},
                       "opacity": {"field": "genus", "type": "nominal", "scale": {"type": "ordinal", "domain": ["Au. afarensis","Au. africanus","Au. sediba","H. naledi","Gorilla","Homo","Hylobates","Pan","Pongo"], "range": [1,1,1,1,0.55,0.55,0.55,0.55,0.55]}},
                       "detail": [{"field": "id"}, {"field": "key"}]}},
                    {"mark": {"type": "rule", "color": "#e2403a", "strokeDash": [8, 6], "strokeWidth": 2}, "encoding": {"y": {"datum": 1, "type": "quantitative", "axis": null}}}
                  ]
                }
              ]
            }
          ]
        },
        {
          "spacing": 11,
          "hconcat": [
            {
              "spacing": 1,
              "vconcat": [
                {"width": 410, "height": 48, "view": {"fill": "black", "stroke": "black"}, "data": {"values": [{"label": "Adolescent"}]}, "mark": {"type": "text", "color": "white", "fontSize": 35, "font": "Liberation Sans"}, "encoding": {"text": {"field": "label", "type": "nominal"}}},
                {
                  "width": 410, "height": 439,
                  "data": {"name": "curves"},
                  "transform": [{"filter": {"field": "stage", "equal": "Adolescent"}}],
                  "resolve": {"axis": {"x": "independent", "y": "independent"}},
                  "layer": [
                    {"transform": [{"filter": "isValid(datum.lo) && isValid(datum.hi)"}], "mark": {"type": "area", "fillOpacity": 0.2},
                     "encoding": {
                       "x": {"field": "x", "type": "quantitative", "scale": {"domain": [6.5, 83.5], "nice": false, "zero": false}, "axis": {"orient": "bottom", "values": [10,30,50,70], "title": null, "domain": false, "labels": false, "ticks": false, "gridColor": "#e8e8e8"}},
                       "y": {"field": "lo", "type": "quantitative", "scale": {"domain": [0.213, 1.034], "nice": false, "zero": false}, "axis": {"orient": "left", "values": [0.25,0.35,0.45,0.55,0.65,0.75,0.85,0.95], "title": null, "domain": false, "labels": false, "ticks": false, "gridColor": "#e8e8e8"}},
                       "y2": {"field": "hi"},
                       "color": {"field": "genus", "type": "nominal", "scale": {"domain": ["Au. afarensis","Au. africanus","Au. sediba","H. naledi","Gorilla","Homo","Hylobates","Pan","Pongo"], "range": ["#2d5a27","#27348b","#9b1c20","#4a3a8e","#f7a928","#5db39f","#9d5266","#639bdc","#8580b3"]}},
                       "detail": {"field": "id"}}},
                    {"transform": [{"fold": ["lo","mid","hi"], "as": ["key","v"]}, {"filter": "isValid(datum.v)"}], "mark": {"type": "line", "strokeWidth": 3.5, "strokeJoin": "round"},
                     "encoding": {
                       "x": {"field": "x", "type": "quantitative", "scale": {"domain": [6.5, 83.5], "nice": false, "zero": false}, "axis": {"orient": "bottom", "values": [20,40,60,80], "title": null, "domain": false, "labelAngle": -45, "labelAlign": "center", "labelBaseline": "top", "labelFontSize": 15, "labelFontWeight": "bold", "labelColor": "#111111", "labelPadding": 3, "labelFlush": false, "tickSize": 5, "tickColor": "#333333", "gridColor": "#cfcfcf"}},
                       "y": {"field": "v", "type": "quantitative", "scale": {"domain": [0.213, 1.034], "nice": false, "zero": false}, "axis": {"orient": "left", "values": [0.3,0.4,0.5,0.6,0.7,0.8,0.9,1.0], "format": ".1f", "title": null, "domain": false, "labelFontSize": 14, "labelColor": "#333333", "labelPadding": 3, "labelFlush": false, "tickSize": 5, "tickColor": "#333333", "gridColor": "#cfcfcf"}},
                       "color": {"field": "genus", "type": "nominal", "scale": {"domain": ["Au. afarensis","Au. africanus","Au. sediba","H. naledi","Gorilla","Homo","Hylobates","Pan","Pongo"], "range": ["#2d5a27","#27348b","#9b1c20","#4a3a8e","#f7a928","#5db39f","#9d5266","#639bdc","#8580b3"]}},
                       "opacity": {"field": "genus", "type": "nominal", "scale": {"type": "ordinal", "domain": ["Au. afarensis","Au. africanus","Au. sediba","H. naledi","Gorilla","Homo","Hylobates","Pan","Pongo"], "range": [1,1,1,1,0.55,0.55,0.55,0.55,0.55]}},
                       "detail": [{"field": "id"}, {"field": "key"}]}},
                    {"mark": {"type": "rule", "color": "#e2403a", "strokeDash": [8, 6], "strokeWidth": 2}, "encoding": {"y": {"datum": 1, "type": "quantitative", "axis": null}}}
                  ]
                }
              ]
            },
            {
              "spacing": 1,
              "vconcat": [
                {"width": 410, "height": 48, "view": {"fill": "black", "stroke": "black"}, "data": {"values": [{"label": "Adult"}]}, "mark": {"type": "text", "color": "white", "fontSize": 35, "font": "Liberation Sans"}, "encoding": {"text": {"field": "label", "type": "nominal"}}},
                {
                  "width": 410, "height": 439,
                  "data": {"name": "curves"},
                  "transform": [{"filter": {"field": "stage", "equal": "Adult"}}],
                  "resolve": {"axis": {"x": "independent", "y": "independent"}},
                  "layer": [
                    {"transform": [{"filter": "isValid(datum.lo) && isValid(datum.hi)"}], "mark": {"type": "area", "fillOpacity": 0.2},
                     "encoding": {
                       "x": {"field": "x", "type": "quantitative", "scale": {"domain": [6.5, 83.5], "nice": false, "zero": false}, "axis": {"orient": "bottom", "values": [10,30,50,70], "title": null, "domain": false, "labels": false, "ticks": false, "gridColor": "#e8e8e8"}},
                       "y": {"field": "lo", "type": "quantitative", "scale": {"domain": [0.213, 1.034], "nice": false, "zero": false}, "axis": {"orient": "left", "values": [0.25,0.35,0.45,0.55,0.65,0.75,0.85,0.95], "title": null, "domain": false, "labels": false, "ticks": false, "gridColor": "#e8e8e8"}},
                       "y2": {"field": "hi"},
                       "color": {"field": "genus", "type": "nominal", "scale": {"domain": ["Au. afarensis","Au. africanus","Au. sediba","H. naledi","Gorilla","Homo","Hylobates","Pan","Pongo"], "range": ["#2d5a27","#27348b","#9b1c20","#4a3a8e","#f7a928","#5db39f","#9d5266","#639bdc","#8580b3"]}},
                       "detail": {"field": "id"}}},
                    {"transform": [{"fold": ["lo","mid","hi"], "as": ["key","v"]}, {"filter": "isValid(datum.v)"}], "mark": {"type": "line", "strokeWidth": 3.5, "strokeJoin": "round"},
                     "encoding": {
                       "x": {"field": "x", "type": "quantitative", "scale": {"domain": [6.5, 83.5], "nice": false, "zero": false}, "axis": {"orient": "bottom", "values": [20,40,60,80], "title": null, "domain": false, "labelAngle": -45, "labelAlign": "center", "labelBaseline": "top", "labelFontSize": 15, "labelFontWeight": "bold", "labelColor": "#111111", "labelPadding": 3, "labelFlush": false, "tickSize": 5, "tickColor": "#333333", "gridColor": "#cfcfcf"}},
                       "y": {"field": "v", "type": "quantitative", "scale": {"domain": [0.213, 1.034], "nice": false, "zero": false}, "axis": {"orient": "left", "values": [0.3,0.4,0.5,0.6,0.7,0.8,0.9,1.0], "title": null, "domain": false, "labels": false, "ticks": false, "gridColor": "#cfcfcf"}},
                       "color": {"field": "genus", "type": "nominal", "scale": {"domain": ["Au. afarensis","Au. africanus","Au. sediba","H. naledi","Gorilla","Homo","Hylobates","Pan","Pongo"], "range": ["#2d5a27","#27348b","#9b1c20","#4a3a8e","#f7a928","#5db39f","#9d5266","#639bdc","#8580b3"]}},
                       "opacity": {"field": "genus", "type": "nominal", "scale": {"type": "ordinal", "domain": ["Au. afarensis","Au. africanus","Au. sediba","H. naledi","Gorilla","Homo","Hylobates","Pan","Pongo"], "range": [1,1,1,1,0.55,0.55,0.55,0.55,0.55]}},
                       "detail": [{"field": "id"}, {"field": "key"}]}},
                    {"mark": {"type": "rule", "color": "#e2403a", "strokeDash": [8, 6], "strokeWidth": 2}, "encoding": {"y": {"datum": 1, "type": "quantitative", "axis": null}}}
                  ]
                }
              ]
            }
          ]
        }
      ]
    }
  ]
}
